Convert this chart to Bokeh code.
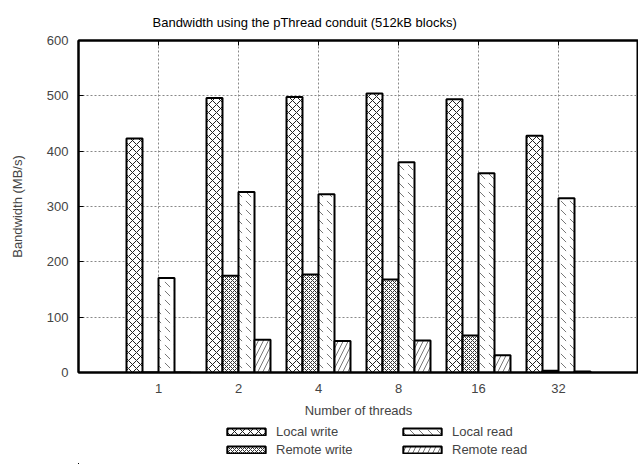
from bokeh.plotting import figure
from bokeh.layouts import column
from bokeh.models import Range1d, LinearAxis, FixedTicker, Legend, LegendItem, Title, CustomJSTickFormatter
from bokeh.embed import file_html
from bokeh.resources import INLINE

threads = ["1", "2", "4", "8", "16", "32"]
local_write = [423, 496, 498, 504, 494, 428]
remote_write = [0, 175, 177, 168, 67, 3]
local_read = [171, 326, 322, 380, 360, 315]
remote_read = [0, 59, 57, 58, 31, 2]

series = [
    ("Local write", local_write, -0.3, dict(hatch_pattern="x", hatch_scale=8, hatch_color="#222222", hatch_weight=1)),
    ("Remote write", remote_write, -0.1, dict(hatch_pattern="x", hatch_scale=4, hatch_color="#333333", hatch_weight=1)),
    ("Local read", local_read, 0.1, dict(hatch_pattern="`", hatch_scale=9, hatch_color="#777777", hatch_weight=1)),
    ("Remote read", remote_read, 0.3, dict(hatch_pattern="/", hatch_scale=10, hatch_color="#777777", hatch_weight=1)),
]

FONT = "Liberation Sans"
idx = list(range(len(threads)))

p = figure(width=638, height=420, output_backend="svg", toolbar_location=None,
           x_range=Range1d(-1.0, 6.0), y_range=Range1d(0, 600),
           min_border_left=78, min_border_right=0, min_border_top=40, min_border_bottom=47)
p.title = None

for name, vals, off, style in series:
    p.vbar(x=[i + off for i in idx], top=vals, width=0.2, fill_color="white",
           line_color="black", line_width=2, **style)

p.outline_line_color = "black"
p.outline_line_width = 2

for ax in (p.xaxis[0], p.yaxis[0]):
    ax.axis_line_width = 2
    ax.major_tick_in = 5
    ax.major_tick_out = 0
    ax.minor_tick_in = 0
    ax.minor_tick_out = 0
    ax.major_label_text_font = FONT
    ax.major_label_text_font_size = "13px"
    ax.axis_label_text_font = FONT
    ax.axis_label_text_font_size = "13px"
    ax.axis_label_text_font_style = "normal"

p.xaxis[0].ticker = FixedTicker(ticks=idx)
p.xaxis[0].major_label_overrides = {i: threads[i] for i in idx}
p.xaxis[0].axis_label = "Number of threads"
p.xaxis[0].major_label_standoff = 11
p.xaxis[0].axis_label_standoff = 7
p.yaxis[0].ticker = FixedTicker(ticks=[0, 100, 200, 300, 400, 500, 600])
p.yaxis[0].axis_label = "Bandwidth (MB/s)"
p.yaxis[0].major_label_standoff = 10
p.yaxis[0].axis_label_standoff = 19

top = LinearAxis(ticker=FixedTicker(ticks=idx), formatter=CustomJSTickFormatter(code="return ''"),
                 major_tick_in=5, major_tick_out=0, minor_tick_in=0, minor_tick_out=0,
                 axis_line_width=2, major_label_standoff=0, axis_label_standoff=0)
p.add_layout(top, "above")

t = Title(text="Bandwidth using the pThread conduit (512kB blocks)", align="left", offset=74,
          text_font=FONT, text_font_size="13px", text_font_style="normal", text_color="black",
          standoff=21)
p.add_layout(t, "above")

p.xgrid.ticker = FixedTicker(ticks=idx)
for g in (p.xgrid[0], p.ygrid[0]):
    g.grid_line_color = "#888888"
    g.grid_line_dash = "2 2"
    g.grid_line_width = 1

# legend panel below the chart (its bars fall outside its ranges, only the key shows)
lg = figure(width=638, height=44, output_backend="svg", toolbar_location=None,
            x_range=Range1d(100, 101), y_range=Range1d(1000, 2000), min_border=0)
lg.axis.visible = False
lg.grid.visible = False
lg.outline_line_color = None
items = []
for name, vals, off, style in series:
    r = lg.vbar(x=[i + off for i in idx], top=vals, width=0.2, fill_color="white",
                line_color="black", line_width=2, **style)
    items.append(LegendItem(label=name, renderers=[r]))

legend = Legend(items=items, ncols=2, orientation="vertical", location=(144, 6),
                label_text_font=FONT, label_text_font_size="13px",
                glyph_width=48, glyph_height=9, spacing=0, padding=0, margin=0,
                label_height=18, label_width=122, label_standoff=6, border_line_color=None,
                background_fill_alpha=0)
lg.add_layout(legend, "center")

open("out.html", "w").write(file_html(column(p, lg, spacing=0), INLINE))
